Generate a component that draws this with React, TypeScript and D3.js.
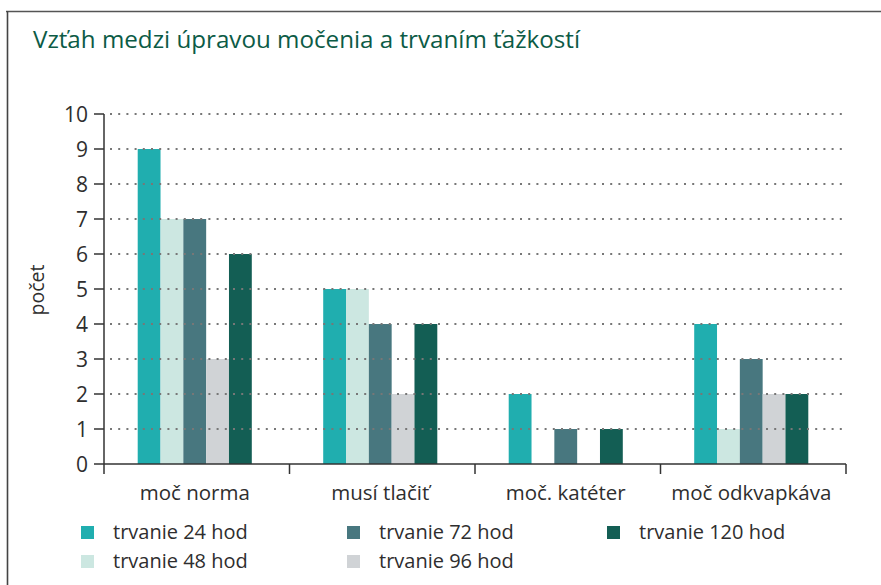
import React from "react";
import * as d3 from "d3";

const categories = ["moč norma", "musí tlačiť", "moč. katéter", "moč odkvapkáva"];
const seriesNames = ["trvanie 24 hod", "trvanie 48 hod", "trvanie 72 hod", "trvanie 96 hod", "trvanie 120 hod"];
const s24 = [9, 5, 2, 4];
const s48 = [7, 5, 0, 1];
const s72 = [7, 4, 1, 3];
const s96 = [3, 2, 0, 2];
const s120 = [6, 4, 1, 2];
const seriesValues = [s24, s48, s72, s96, s120];
const colors = ["#20aeaf", "#cce7e1", "#48777f", "#d0d3d6", "#135e54"];
const yTicks = [0, 1, 2, 3, 4, 5, 6, 7, 8, 9, 10];
const title = "Vzťah medzi úpravou močenia a trvaním ťažkostí";
const yLabel = "počet";

const W = 881;
const H = 585;
const plot = { left: 104, right: 846, top: 114, bottom: 464 };
const FONT = "'Open Sans', 'Noto Sans', sans-serif";

export default function App() {
  const x0 = d3.scaleBand<string>().domain(categories).range([plot.left, plot.right]).paddingInner(0).paddingOuter(0);
  const groupW = x0.bandwidth() * 0.615;
  const x1 = d3
    .scaleBand<string>()
    .domain(seriesNames)
    .range([0, groupW])
    .padding(0);
  const y = d3.scaleLinear().domain([0, 10]).range([plot.bottom, plot.top]);

  const boundaries = [...categories.map((c) => x0(c) as number), plot.right];

  const legendCols = [81, 347, 607];
  const legendRows = [526, 555];
  const legendOrder = [
    [0, 0, 0],
    [1, 0, 1],
    [2, 1, 0],
    [3, 1, 1],
    [4, 2, 0],
  ];

  return (
    <svg
      width={W}
      height={H}
      style={{ position: "absolute", left: 0, top: 0, background: "#fff" }}
      fontFamily={FONT}
    >
      {/* frame */}
      <line x1={6} y1={11.5} x2={W} y2={11.5} stroke="#555" strokeWidth={1.6} />
      <line x1={7.5} y1={11} x2={7.5} y2={H} stroke="#444" strokeWidth={1.6} />

      {/* title */}
      <text x={33} y={48} fontSize={23.5} fill="#0c5b46" textLength={547} lengthAdjust="spacingAndGlyphs">
        {title}
      </text>

      {/* bars */}
      {categories.map((c, ci) => (
        <g key={c} transform={`translate(${(x0(c) as number) + (x0.bandwidth() - groupW) / 2 - 2},0)`}>
          {seriesNames.map((s, si) => {
            const v = seriesValues[si][ci];
            if (!v) return null;
            return (
              <rect
                key={s}
                x={x1(s) as number}
                y={y(v)}
                width={x1.bandwidth()}
                height={y(0) - y(v)}
                fill={colors[si]}
              />
            );
          })}
        </g>
      ))}

      {/* gridlines (drawn over bars) */}
      {yTicks
        .filter((t) => t > 0)
        .map((t) => (
          <line
            key={t}
            x1={110}
            x2={plot.right}
            y1={y(t)}
            y2={y(t)}
            stroke="#777"
            strokeWidth={2}
            strokeDasharray="2 6.2"
          />
        ))}

      {/* y axis */}
      <line x1={plot.left} x2={plot.left} y1={plot.top} y2={plot.bottom} stroke="#333" strokeWidth={1.5} />
      {yTicks.map((t) => (
        <g key={t}>
          <line x1={94} x2={plot.left} y1={y(t)} y2={y(t)} stroke="#333" strokeWidth={1.5} />
          <text x={88} y={y(t)} dy="0.36em" textAnchor="end" fontSize={21} fill="#2e2e2e">
            {t}
          </text>
        </g>
      ))}

      {/* x axis */}
      <line x1={plot.left} x2={plot.right} y1={plot.bottom} y2={plot.bottom} stroke="#333" strokeWidth={1.5} />
      {boundaries.map((b, i) => (
        <line key={i} x1={b} x2={b} y1={plot.bottom} y2={plot.bottom + 10} stroke="#333" strokeWidth={1.5} />
      ))}
      {categories.map((c) => (
        <text
          key={c}
          x={(x0(c) as number) + x0.bandwidth() / 2 - 2}
          y={500}
          textAnchor="middle"
          fontSize={20.5}
          fill="#2e2e2e"
        >
          {c}
        </text>
      ))}

      {/* y label */}
      <text
        transform={`translate(44,290) rotate(-90)`}
        textAnchor="middle"
        fontSize={19.5}
        fill="#2e2e2e"
      >
        {yLabel}
      </text>

      {/* legend */}
      {legendOrder.map(([si, col, row]) => (
        <g key={si} transform={`translate(${legendCols[col]},${legendRows[row]})`}>
          <rect x={0} y={0} width={13} height={13} fill={colors[si]} />
          <text x={32} y={13} fontSize={20} fill="#2e2e2e">
            {seriesNames[si]}
          </text>
        </g>
      ))}
    </svg>
  );
}
